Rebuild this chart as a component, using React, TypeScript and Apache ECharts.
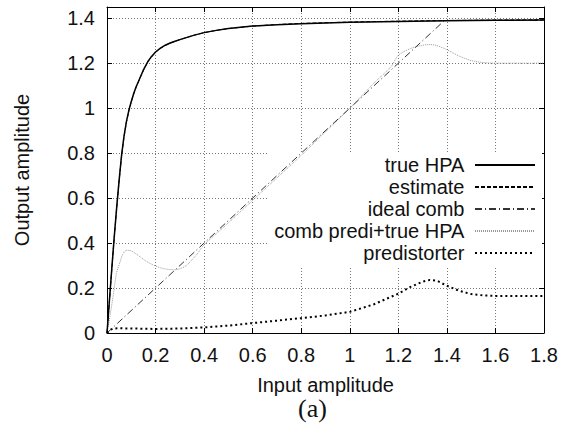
import React, { useEffect, useRef } from "react";
import * as echarts from "echarts";

const xTicks = [0, 0.2, 0.4, 0.6, 0.8, 1, 1.2, 1.4, 1.6, 1.8];
const yTicks = [0, 0.2, 0.4, 0.6, 0.8, 1, 1.2, 1.4];

const seriesNames = ["true HPA", "estimate", "ideal comb", "comb predi+true HPA", "predistorter"];

const trueHPA: [number, number][] = [
  [0, 0], [0.01, 0.145], [0.02, 0.29], [0.03, 0.43], [0.04, 0.56], [0.05, 0.68], [0.06, 0.79],
  [0.07, 0.875], [0.08, 0.94], [0.09, 0.99], [0.1, 1.03], [0.11, 1.065], [0.12, 1.095],
  [0.13, 1.12], [0.14, 1.145], [0.15, 1.17], [0.16, 1.19], [0.17, 1.21], [0.18, 1.225],
  [0.19, 1.238], [0.2, 1.25], [0.22, 1.267], [0.24, 1.28], [0.26, 1.29], [0.28, 1.298],
  [0.3, 1.305], [0.33, 1.315], [0.36, 1.325], [0.4, 1.336], [0.45, 1.346], [0.5, 1.354],
  [0.6, 1.365], [0.7, 1.371], [0.8, 1.376], [1.0, 1.382], [1.2, 1.386], [1.4, 1.389],
  [1.6, 1.391], [1.8, 1.392],
];

const estimate: [number, number][] = [
  [0, 0], [0.01, 0.143], [0.02, 0.287], [0.03, 0.427], [0.04, 0.557], [0.05, 0.677], [0.06, 0.787],
  [0.07, 0.872], [0.08, 0.938], [0.09, 0.988], [0.1, 1.028], [0.11, 1.063], [0.12, 1.093],
  [0.13, 1.119], [0.14, 1.144], [0.15, 1.169], [0.16, 1.189], [0.17, 1.209], [0.18, 1.224],
  [0.19, 1.237], [0.2, 1.249], [0.22, 1.266], [0.24, 1.279], [0.26, 1.289], [0.28, 1.297],
  [0.3, 1.305], [0.33, 1.315], [0.36, 1.325], [0.4, 1.336], [0.45, 1.346], [0.5, 1.354],
  [0.6, 1.365], [0.7, 1.372], [0.8, 1.377], [1.0, 1.383], [1.2, 1.387], [1.4, 1.39],
  [1.6, 1.392], [1.8, 1.393],
];

const idealComb: [number, number][] = [
  [0, 0], [1.39, 1.39], [1.8, 1.39],
];

const combPrediHPA: [number, number][] = [
  [0, 0], [0.012, 0.074], [0.025, 0.163], [0.039, 0.266], [0.053, 0.313], [0.065, 0.35],
  [0.08, 0.368], [0.095, 0.367], [0.115, 0.355], [0.135, 0.34], [0.16, 0.32], [0.19, 0.303],
  [0.22, 0.29], [0.245, 0.284], [0.28, 0.281], [0.31, 0.29], [0.33, 0.303], [0.37, 0.35],
  [0.4, 0.392], [0.5, 0.49], [0.6, 0.59], [0.7, 0.69], [0.8, 0.79], [0.9, 0.895],
  [1.0, 1.0], [1.1, 1.112], [1.17, 1.185], [1.2, 1.235], [1.25, 1.265], [1.3, 1.28],
  [1.33, 1.283], [1.36, 1.278], [1.4, 1.26], [1.45, 1.232], [1.5, 1.212], [1.54, 1.204],
  [1.6, 1.2], [1.8, 1.2],
];

const predistorter: [number, number][] = [
  [0, 0], [0.01, 0.012], [0.025, 0.02], [0.05, 0.021], [0.1, 0.02], [0.2, 0.018],
  [0.3, 0.02], [0.4, 0.025], [0.5, 0.033], [0.6, 0.044], [0.7, 0.055], [0.8, 0.066],
  [0.9, 0.078], [1.0, 0.094], [1.1, 0.128], [1.2, 0.175], [1.25, 0.205], [1.3, 0.228],
  [1.33, 0.236], [1.36, 0.232], [1.4, 0.21], [1.45, 0.188], [1.5, 0.173], [1.55, 0.167],
  [1.6, 0.165], [1.8, 0.165],
];

const FONT = "Liberation Sans, Arial, sans-serif";

export default function App() {
  const ref = useRef<HTMLDivElement>(null);
  useEffect(() => {
    if (!ref.current) return;
    const chart = echarts.init(ref.current, undefined, { renderer: "svg" });
    const fmt = (v: number) => String(+v.toFixed(1));
    const gridLine = { show: true, lineStyle: { color: "#777", width: 1, type: [1, 2] as any } };
    const noMark = { opacity: 0 };
    chart.setOption({
      animation: false,
      backgroundColor: "#fff",
      textStyle: { fontFamily: FONT },
      grid: { left: 107, right: 20, top: 7, bottom: 109, show: false },
      xAxis: [
        {
          type: "value", min: 0, max: 1.8, interval: 0.2,
          axisLine: { show: true, onZero: false, lineStyle: { color: "#000", width: 1 } },
          axisTick: { show: true, inside: true, length: 5, lineStyle: { color: "#000" } },
          axisLabel: { formatter: fmt, fontSize: 20, color: "#111", margin: 12, fontFamily: FONT, showMaxLabel: true },
          splitLine: gridLine,
          name: "Input amplitude", nameLocation: "middle", nameGap: 42,
          nameTextStyle: { fontSize: 20, color: "#111", fontFamily: FONT },
        },
        {
          type: "value", min: 0, max: 1.8, interval: 0.2, position: "top",
          axisLine: { show: true, onZero: false, lineStyle: { color: "#000", width: 1 } },
          axisTick: { show: true, inside: true, length: 5, lineStyle: { color: "#000" } },
          axisLabel: { show: false }, splitLine: { show: false },
        },
      ],
      yAxis: [
        {
          type: "value", min: 0, max: 1.45, interval: 0.2,
          axisLine: { show: true, onZero: false, lineStyle: { color: "#000", width: 1 } },
          axisTick: { show: true, inside: true, length: 5, lineStyle: { color: "#000" } },
          axisLabel: {
            formatter: (v: number) => (v > 1.41 ? "" : fmt(v)),
            fontSize: 20, color: "#111", margin: 12, fontFamily: FONT,
          },
          splitLine: gridLine,
          name: "Output amplitude", nameLocation: "middle", nameGap: 75,
          nameTextStyle: { fontSize: 20, color: "#111", fontFamily: FONT },
        },
        {
          type: "value", min: 0, max: 1.45, interval: 0.2, position: "right",
          axisLine: { show: true, onZero: false, lineStyle: { color: "#000", width: 1 } },
          axisTick: { show: true, inside: true, length: 5, lineStyle: { color: "#000" } },
          axisLabel: { show: false }, splitLine: { show: false },
        },
      ],
      legend: {
        data: seriesNames,
        orient: "vertical",
        align: "right",
        right: 22,
        top: 152,
        padding: [2, 6, 3, 6],
        itemWidth: 60,
        itemHeight: 14,
        itemGap: 0,
        backgroundColor: "#fff",
        z: 1,
        selectedMode: false,
        itemStyle: { opacity: 0 },
        formatter: (name: string) => name + "\u00a0",
        textStyle: { fontSize: 20, color: "#111", fontFamily: FONT, lineHeight: 22 },
      },
      graphic: [
        {
          type: "text", left: 298, top: 395, z: 10,
          style: { text: "(a)", fontSize: 26, fontFamily: "Liberation Serif, DejaVu Serif, serif", fill: "#111" },
        },
      ],
      series: [
        {
          name: "predistorter", type: "line", data: predistorter, showSymbol: false, symbol: "none",
          itemStyle: noMark,
          lineStyle: { color: "#000", width: 2, type: [2, 3] }, z: 3,
        },
        {
          name: "comb predi+true HPA", type: "line", data: combPrediHPA, showSymbol: false, symbol: "none",
          itemStyle: noMark, smooth: 0.3,
          lineStyle: { color: "#999", width: 1, type: [1, 1] }, z: 3,
        },
        {
          name: "ideal comb", type: "line", data: idealComb, showSymbol: false, symbol: "none",
          itemStyle: noMark,
          lineStyle: { color: "#333", width: 1, type: [7, 3, 1, 3] }, z: 3,
        },
        {
          name: "estimate", type: "line", data: estimate, showSymbol: false, symbol: "none",
          itemStyle: noMark,
          lineStyle: { color: "#000", width: 1, type: [4, 2] }, z: 3,
        },
        {
          name: "true HPA", type: "line", data: trueHPA, showSymbol: false, symbol: "none",
          itemStyle: noMark,
          lineStyle: { color: "#000", width: 1.5, type: "solid" }, z: 3,
        },
      ],
    });
    return () => chart.dispose();
  }, []);
  return (
    <div
      ref={ref}
      style={{ position: "fixed", left: 0, top: 0, width: 564, height: 442 }}
    />
  );
}
